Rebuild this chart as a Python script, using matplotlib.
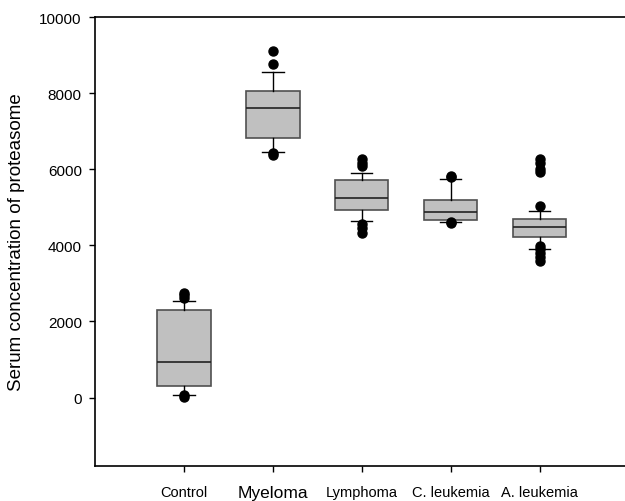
import matplotlib
matplotlib.use("Agg")
import matplotlib.pyplot as plt

plt.rcParams['font.family'] = ['Liberation Sans', 'DejaVu Sans']

# groups and box statistics
groups = ["Control", "Myeloma", "Lymphoma", "C. leukemia", "A. leukemia"]
q1 = [297, 6832, 4934, 4680, 4218]
medians = [937, 7604, 5249, 4874, 4480]
q3 = [2291, 8066, 5722, 5197, 4698]
whisk_lo = [79, 6449, 4640, 4627, 3911]
whisk_hi = [2538, 8549, 5906, 5748, 4904]
fliers = [
    [2620, 2700, 2760, 60, 20],
    [9120, 8770, 6420, 6380],
    [6280, 6180, 6100, 4560, 4450, 4330],
    [5830, 5790, 4610, 4590],
    [6270, 6180, 6000, 5920, 5040, 3990, 3900, 3800, 3700, 3600],
]
label_sizes = [10.5, 12.5, 10.5, 10.5, 10.5]

stats = []
for i, g in enumerate(groups):
    stats.append(dict(label=g, q1=q1[i], med=medians[i], q3=q3[i],
                      whislo=whisk_lo[i], whishi=whisk_hi[i], fliers=fliers[i]))

fig = plt.figure(figsize=(6.25, 5.02), dpi=100)
ax = fig.add_axes([0.152, 0.0697, 0.848, 0.894])

ax.bxp(stats, positions=range(1, 6), widths=0.6, patch_artist=True,
       boxprops=dict(facecolor="#c0c0c0", edgecolor="#505050", linewidth=1.2),
       medianprops=dict(color="#222222", linewidth=1.2),
       whiskerprops=dict(color="black", linewidth=1),
       capprops=dict(color="black", linewidth=1),
       capwidths=0.24,
       flierprops=dict(marker="o", markerfacecolor="black", markeredgecolor="black",
                       markersize=6.5))

ax.set_xlim(0, 5.96)
ax.set_ylim(-1800, 10000)
ax.set_yticks([0, 2000, 4000, 6000, 8000, 10000])
ax.set_xticks(range(1, 6))
ax.set_xticklabels(groups)
for lab, s in zip(ax.get_xticklabels(), label_sizes):
    lab.set_fontsize(s)
ax.tick_params(axis="y", direction="out", length=4.5, width=1, labelsize=11, pad=5)
ax.tick_params(axis="x", direction="out", length=4.5, width=1, pad=9)
ax.spines["right"].set_visible(False)
for s in ["left", "top", "bottom"]:
    ax.spines[s].set_linewidth(1.2)

ax.set_ylabel("Serum concentration of proteasome", fontsize=13.5, labelpad=10)

fig.savefig("out.png", dpi=100)
